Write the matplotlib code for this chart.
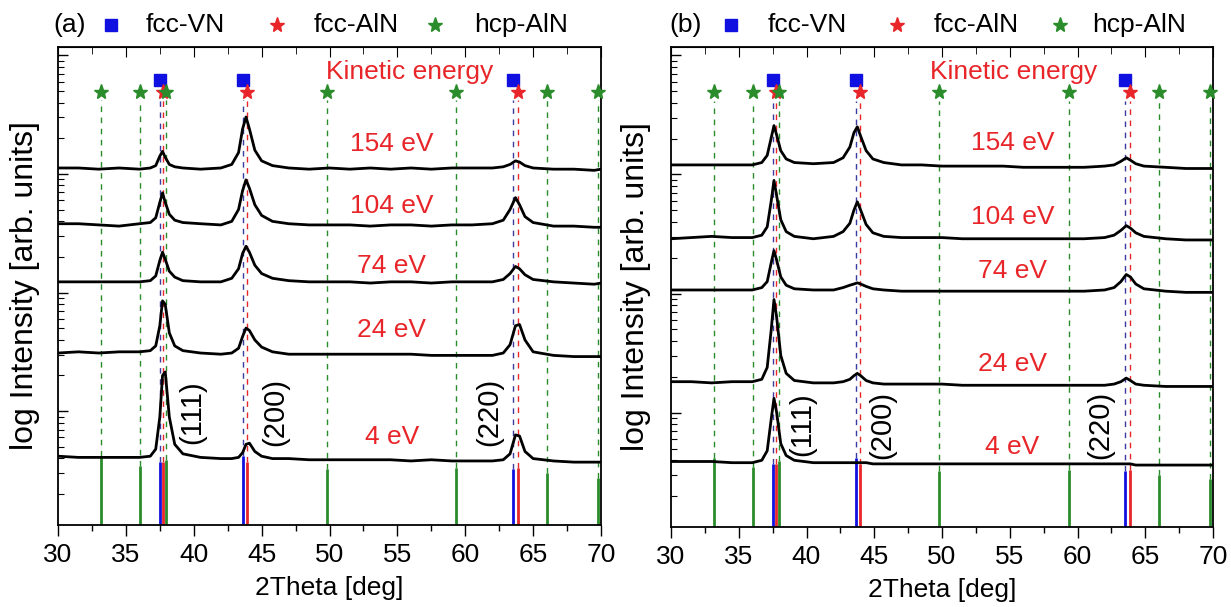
# %%
import numpy as np
import matplotlib.pyplot as plt
from matplotlib.ticker import MultipleLocator, LogLocator, NullFormatter

plt.rcParams['font.family'] = ['Liberation Sans', 'DejaVu Sans']

# reference positions (2theta) and stick heights (log decades)
hcp_pos = [33.2, 36.05, 37.95, 49.8, 59.35, 66.05, 69.75]
hcp_stick = [0.62, 0.54, 0.59, 0.51, 0.52, 0.48, 0.44]
vn_pos = [37.55, 43.65, 63.5]
vn_stick = [0.57, 0.62, 0.51]
aln_pos = [37.75, 43.95, 63.9]
aln_stick = [0.57, 0.57, 0.52]

energies = ["154 eV", "104 eV", "74 eV", "24 eV", "4 eV"]
hkl = ["(111)", "(200)", "(220)"]

# panel (a): log10 intensity, stacked
xa = [30, 31.5, 33, 34.5, 36, 36.8, 37.2, 37.5, 37.7, 37.9, 38.2, 38.6, 39.2, 40.5, 42,
      42.8, 43.3, 43.6, 43.85, 44.1, 44.5, 45, 45.8, 47, 48.5, 50, 51.5, 53, 54.5, 56,
      57.5, 59, 60.5, 62, 62.8, 63.3, 63.7, 64.0, 64.4, 65, 66.5, 68, 69.5, 70]
a154 = [3.05, 3.05, 3.04, 3.05, 3.04, 3.05, 3.07, 3.15, 3.19, 3.14, 3.08, 3.06, 3.05, 3.04, 3.05,
        3.08, 3.18, 3.38, 3.48, 3.38, 3.20, 3.11, 3.07, 3.05, 3.04, 3.05, 3.04, 3.05, 3.04, 3.05,
        3.04, 3.05, 3.05, 3.05, 3.06, 3.08, 3.11, 3.10, 3.07, 3.05, 3.04, 3.04, 3.03, 3.04]
a104 = [2.58, 2.58, 2.57, 2.56, 2.58, 2.59, 2.63, 2.76, 2.84, 2.76, 2.66, 2.61, 2.59, 2.58, 2.57,
        2.60, 2.70, 2.86, 2.95, 2.88, 2.74, 2.65, 2.60, 2.58, 2.57, 2.57, 2.57, 2.56, 2.57, 2.57,
        2.56, 2.57, 2.57, 2.58, 2.61, 2.70, 2.80, 2.74, 2.64, 2.59, 2.56, 2.56, 2.55, 2.55]
a74 = [2.09, 2.09, 2.09, 2.09, 2.09, 2.10, 2.14, 2.27, 2.34, 2.28, 2.18, 2.13, 2.10, 2.09, 2.09,
       2.12, 2.20, 2.33, 2.39, 2.34, 2.23, 2.16, 2.12, 2.10, 2.09, 2.09, 2.09, 2.08, 2.09, 2.09,
       2.08, 2.09, 2.09, 2.09, 2.11, 2.16, 2.22, 2.20, 2.15, 2.11, 2.09, 2.08, 2.07, 2.08]
a24 = [1.49, 1.50, 1.49, 1.50, 1.50, 1.51, 1.55, 1.72, 1.93, 1.90, 1.66, 1.55, 1.51, 1.49, 1.48,
       1.49, 1.53, 1.63, 1.70, 1.68, 1.60, 1.54, 1.50, 1.48, 1.48, 1.48, 1.48, 1.48, 1.48, 1.48,
       1.47, 1.47, 1.47, 1.47, 1.49, 1.56, 1.72, 1.73, 1.60, 1.50, 1.47, 1.46, 1.46, 1.46]
a4 = [0.62, 0.61, 0.61, 0.61, 0.61, 0.62, 0.68, 0.95, 1.30, 1.33, 0.95, 0.72, 0.64, 0.61, 0.60,
      0.60, 0.61, 0.65, 0.72, 0.73, 0.66, 0.62, 0.60, 0.60, 0.59, 0.59, 0.59, 0.59, 0.59, 0.58,
      0.59, 0.58, 0.58, 0.58, 0.59, 0.64, 0.80, 0.79, 0.66, 0.60, 0.58, 0.57, 0.57, 0.57]

# panel (b)
xb = [30, 31.5, 33, 34.5, 36, 36.7, 37.1, 37.4, 37.6, 37.8, 38.1, 38.5, 39.1, 40.5, 42,
      42.7, 43.2, 43.5, 43.75, 44.0, 44.4, 44.9, 45.7, 47, 48.5, 50, 51.5, 53, 54.5, 56,
      57.5, 59, 60.5, 62, 62.7, 63.2, 63.6, 63.9, 64.3, 64.9, 66.5, 68, 69.5, 70]
b154 = [3.08, 3.08, 3.08, 3.08, 3.08, 3.10, 3.16, 3.31, 3.41, 3.33, 3.20, 3.13, 3.10, 3.09, 3.10,
        3.14, 3.23, 3.35, 3.40, 3.32, 3.20, 3.13, 3.10, 3.08, 3.08, 3.07, 3.07, 3.07, 3.07, 3.06,
        3.06, 3.06, 3.06, 3.07, 3.08, 3.11, 3.14, 3.12, 3.09, 3.07, 3.06, 3.05, 3.05, 3.05]
b104 = [2.46, 2.47, 2.48, 2.47, 2.47, 2.49, 2.56, 2.78, 2.95, 2.82, 2.62, 2.52, 2.48, 2.46, 2.48,
        2.52, 2.59, 2.70, 2.77, 2.70, 2.58, 2.51, 2.48, 2.47, 2.47, 2.47, 2.46, 2.46, 2.46, 2.46,
        2.46, 2.46, 2.46, 2.47, 2.49, 2.53, 2.57, 2.55, 2.51, 2.48, 2.46, 2.45, 2.45, 2.45]
b74 = [2.03, 2.03, 2.03, 2.03, 2.03, 2.05, 2.10, 2.26, 2.36, 2.28, 2.14, 2.07, 2.04, 2.03, 2.03,
       2.05, 2.07, 2.08, 2.09, 2.08, 2.06, 2.04, 2.03, 2.02, 2.02, 2.02, 2.02, 2.02, 2.02, 2.02,
       2.02, 2.02, 2.02, 2.03, 2.05, 2.10, 2.16, 2.14, 2.08, 2.04, 2.02, 2.01, 2.01, 2.01]
b24 = [1.26, 1.26, 1.25, 1.26, 1.26, 1.28, 1.38, 1.70, 1.95, 1.80, 1.48, 1.33, 1.27, 1.25, 1.25,
       1.26, 1.28, 1.31, 1.33, 1.31, 1.27, 1.25, 1.24, 1.24, 1.24, 1.24, 1.23, 1.23, 1.23, 1.23,
       1.23, 1.23, 1.23, 1.23, 1.24, 1.26, 1.29, 1.27, 1.24, 1.23, 1.22, 1.22, 1.22, 1.22]
b4 = [0.59, 0.59, 0.59, 0.58, 0.58, 0.60, 0.68, 0.95, 1.12, 1.00, 0.74, 0.64, 0.60, 0.58, 0.58,
      0.58, 0.58, 0.58, 0.58, 0.58, 0.58, 0.57, 0.57, 0.57, 0.57, 0.57, 0.57, 0.57, 0.57, 0.57,
      0.57, 0.57, 0.57, 0.57, 0.57, 0.57, 0.57, 0.57, 0.56, 0.56, 0.56, 0.56, 0.56, 0.56]

# label positions (2theta, log decade)
lab_a_x, lab_a_y = 54.6, [3.25, 2.73, 2.22, 1.68, 0.78]
lab_b_x, lab_b_y = 55.2, [3.26, 2.64, 2.19, 1.41, 0.71]
kin_a_x, kin_b_x, kin_y = 55.9, 55.3, 3.86
hkl_a_x, hkl_a_y = [39.9, 46.0, 61.8], 0.99
hkl_b_x, hkl_b_y = [39.7, 45.6, 61.7], 0.90

GREEN = "#2a8c2a"
RED = "#e8262a"
BLUE = "#1010e0"
DBLUE = "#3a3aa0"
FS = 19

fig = plt.figure(figsize=(12.31, 6.07), dpi=100)
ax_a = fig.add_axes([58/1231, 1-525/607, 543/1231, 478/607])
ax_b = fig.add_axes([671/1231, 1-527/607, 542/1231, 480/607])

ylo, yhi = 10**0.04, 10**4.07
star_y, sq_y, dash_top = 3.69, 3.79, 3.62


def draw_panel(ax, x, traces, lab_x, lab_y, kin_x, hkl_x, hkl_y):
    ax.set_yscale('log')
    ax.set_xlim(30, 70)
    ax.set_ylim(ylo, yhi)

    # reference markers: dashed guides + sticks
    for pos, h in zip(hcp_pos, hcp_stick):
        ax.vlines(pos, 10**h, 10**dash_top, colors=GREEN, linestyles=(0, (4, 4)), lw=1)
        ax.vlines(pos, ylo, 10**h, colors=GREEN, lw=2)
    for pos, h in zip(vn_pos, vn_stick):
        ax.vlines(pos, 10**h, 10**dash_top, colors=DBLUE, linestyles=(0, (4, 4)), lw=1)
        ax.vlines(pos, ylo, 10**h, colors=BLUE, lw=2)
    for pos, h in zip(aln_pos, aln_stick):
        ax.vlines(pos, 10**h, 10**dash_top, colors=RED, linestyles=(0, (4, 4)), lw=1)
        ax.vlines(pos, ylo, 10**h, colors=RED, lw=2)

    ax.plot(vn_pos, [10**sq_y]*len(vn_pos), 's', color=BLUE, ms=8, clip_on=False, zorder=6)
    ax.plot(aln_pos, [10**star_y]*len(aln_pos), '*', color=RED, ms=11, clip_on=False, zorder=6)
    ax.plot(hcp_pos, [10**star_y]*len(hcp_pos), '*', color=GREEN, ms=11, clip_on=False, zorder=7)

    for tr in traces:
        ax.plot(x, 10**np.array(tr), color='black', lw=2.0, zorder=5)

    for name, ly in zip(energies, lab_y):
        ax.text(lab_x, 10**ly, name, color=RED, fontsize=FS, ha='center', va='center')
    ax.text(kin_x, 10**kin_y, "Kinetic energy", color=RED, fontsize=FS, ha='center', va='center')
    for name, hx in zip(hkl, hkl_x):
        ax.text(hx, 10**hkl_y, name, fontsize=21, rotation=90, ha='center', va='center')

    ax.xaxis.set_major_locator(MultipleLocator(5))
    ax.xaxis.set_minor_locator(MultipleLocator(2.5))
    ax.tick_params(axis='x', which='major', direction='out', length=8, width=1,
                   labelsize=FS, pad=5)
    ax.tick_params(axis='x', which='minor', direction='out', length=4, width=1)
    ax.yaxis.set_major_locator(LogLocator(base=10))
    ax.yaxis.set_minor_locator(LogLocator(base=10, subs=np.arange(2, 10)))
    ax.yaxis.set_major_formatter(NullFormatter())
    ax.yaxis.set_minor_formatter(NullFormatter())
    ax.tick_params(axis='y', which='major', direction='in', length=7, width=1)
    ax.tick_params(axis='y', which='minor', direction='in', length=4, width=0.8)

    top = ax.secondary_xaxis('top')
    top.xaxis.set_major_locator(MultipleLocator(5))
    top.xaxis.set_minor_locator(MultipleLocator(2.5))
    top.tick_params(which='major', direction='in', length=7, labeltop=False)
    top.tick_params(which='minor', direction='in', length=5)
    top.xaxis.set_major_formatter(NullFormatter())

    for sp in ax.spines.values():
        sp.set_linewidth(1.3)

    ax.set_xlabel("2Theta [deg]", fontsize=FS)
    ax.xaxis.set_label_coords(0.5, -0.132)
    ax.xaxis.label.set_verticalalignment('center')
    ax.set_ylabel("log Intensity [arb. units]", fontsize=23)


draw_panel(ax_a, xa, [a154, a104, a74, a24, a4], lab_a_x, lab_a_y, kin_a_x, hkl_a_x, hkl_a_y)
draw_panel(ax_b, xb, [b154, b104, b74, b24, b4], lab_b_x, lab_b_y, kin_b_x, hkl_b_x, hkl_b_y)
ax_a.yaxis.set_label_coords(-0.034, 0.5)
ax_b.yaxis.set_label_coords(-0.036, 0.5)

# header legends (figure pixel positions)
def header(tag, tag_x, sq_x, vn_x, rs_x, aln_x, gs_x, hcp_x, y=25):
    yy = 1 - y/607
    fig.text(tag_x/1231, yy, tag, fontsize=FS, va='center', ha='left')
    ax_a.plot([sq_x/1231], [yy], 's', color=BLUE, ms=8, transform=fig.transFigure, clip_on=False)
    fig.text(vn_x/1231, yy, "fcc-VN", fontsize=FS, va='center', ha='left')
    ax_a.plot([rs_x/1231], [yy], '*', color=RED, ms=11, transform=fig.transFigure, clip_on=False)
    fig.text(aln_x/1231, yy, "fcc-AlN", fontsize=FS, va='center', ha='left')
    ax_a.plot([gs_x/1231], [yy], '*', color=GREEN, ms=11, transform=fig.transFigure, clip_on=False)
    fig.text(hcp_x/1231, yy, "hcp-AlN", fontsize=FS, va='center', ha='left')


header("(a)", 53, 111, 146, 277, 314, 435, 474)
header("(b)", 669, 731, 768, 897, 934, 1060, 1092)

fig.savefig("out.png", dpi=100)
